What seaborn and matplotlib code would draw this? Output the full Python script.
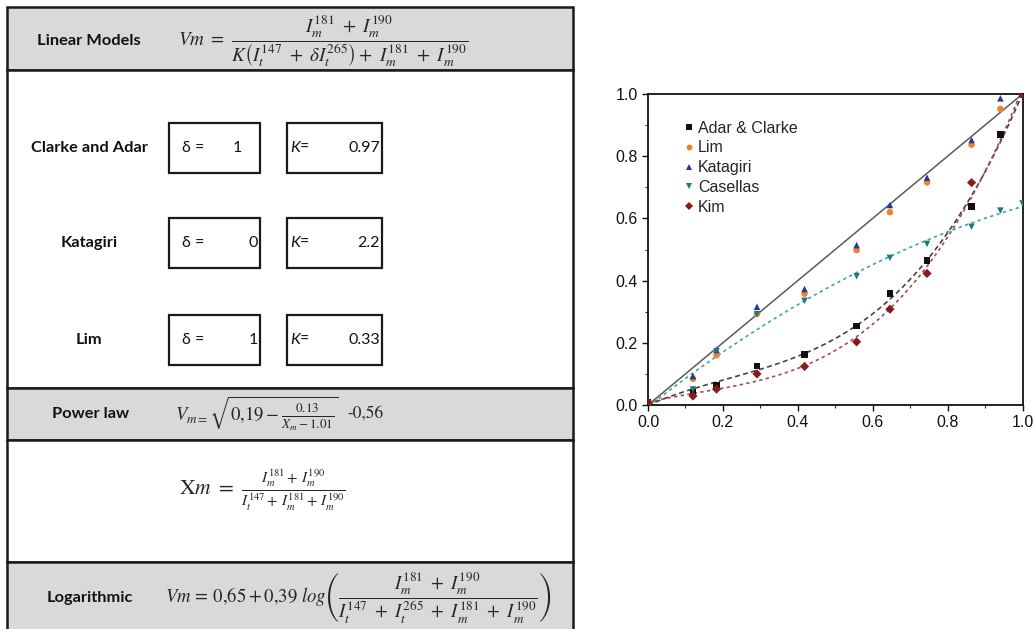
import numpy as np
import pandas as pd
import matplotlib
matplotlib.use("Agg")
import matplotlib.pyplot as plt
from matplotlib.patches import Rectangle
from matplotlib.ticker import MultipleLocator
import seaborn as sns

# data
x_vals = [0.0, 0.12, 0.183, 0.291, 0.418, 0.557, 0.646, 0.745, 0.864, 0.941, 1.0]
adar_clarke = [0.008, 0.040, 0.064, 0.126, 0.162, 0.254, 0.359, 0.464, 0.638, 0.870, 1.0]
lim = [0.003, 0.084, 0.160, 0.293, 0.358, 0.498, 0.620, 0.716, 0.837, 0.952, 1.0]
katagiri = [0.003, 0.093, 0.177, 0.316, 0.373, 0.514, 0.643, 0.731, 0.852, 0.986, 1.0]
casellas = [0.003, 0.050, 0.173, 0.292, 0.335, 0.414, 0.473, 0.518, 0.573, 0.625, 0.648]
kim = [0.008, 0.029, 0.051, 0.100, 0.124, 0.203, 0.308, 0.423, 0.715, np.nan, 1.0]
identity = [0.0, 1.0]

series_names = ["Adar & Clarke", "Lim", "Katagiri", "Casellas", "Kim"]
series_vals = [adar_clarke, lim, katagiri, casellas, kim]
colors = ["#111111", "#f0802c", "#22389a", "#1b7a78", "#8a1a1a"]
markers = ["s", "o", "^", "v", "D"]

# fitted curves: series, polynomial order, line colour, dash pattern
fits = [("Casellas", 2, "#3fa6a2", (0, (2, 2))),
        ("Adar & Clarke", 3, "#444444", (0, (3, 2))),
        ("Kim", 3, "#b04848", (0, (2, 2)))]

# table contents
models = ["Clarke and Adar", "Katagiri", "Lim"]
deltas = ["1", "0", "1"]
ks = ["0.97", "2.2", "0.33"]

rows = []
for name, vals in zip(series_names, series_vals):
    for x, y in zip(x_vals, vals):
        rows.append({"x": x, "y": y, "model": name})
df = pd.DataFrame(rows).dropna()

sns.set_theme(style="white")
plt.rcParams["font.family"] = ["Liberation Sans", "DejaVu Sans"]
plt.rcParams["mathtext.fontset"] = "stix"

W, H = 1035, 629
fig = plt.figure(figsize=(W / 100, H / 100), dpi=100)

# ---- left: table drawn in pixel coordinates
tab = fig.add_axes([0, 0, 1, 1])
tab.set_xlim(0, W)
tab.set_ylim(H, 0)
tab.axis("off")

gray = "#d9d9d9"
L, R = 7, 573
bands = [(7, 70, gray), (70, 388, "white"), (388, 440, gray),
         (440, 562, "white"), (562, 640, gray)]
for top, bot, fc in bands:
    tab.add_patch(Rectangle((L, top), R - L, bot - top, facecolor=fc,
                            edgecolor="#1a1a1a", lw=1.8, clip_on=False))

lbl = dict(family=["Lato", "DejaVu Sans"], fontsize=11.8, fontweight="bold",
           color="#111111", va="center")
box_font = dict(family=["Lato", "DejaVu Sans"], fontsize=11.5, color="#111111",
                va="center")

tab.text(37, 41, "Linear Models", ha="left", **lbl)
tab.text(178, 41,
         r"$Vm\ =\ \dfrac{I_m^{181}\ +\ I_m^{190}}"
         r"{K\left(I_t^{147}\ +\ \delta I_t^{265}\right)+\ I_m^{181}\ +\ I_m^{190}}$",
         ha="left", va="center", fontsize=13.8)

row_y = [148, 243, 340]
for name, d, k, yc in zip(models, deltas, ks, row_y):
    tab.text(89, yc, name, ha="center", **lbl)
    tab.add_patch(Rectangle((169, yc - 25), 91, 50, facecolor="white",
                            edgecolor="#1a1a1a", lw=1.6))
    tab.add_patch(Rectangle((287, yc - 25), 95, 50, facecolor="white",
                            edgecolor="#1a1a1a", lw=1.6))
    tab.text(182, yc, "δ =", ha="left", **box_font)
    if name == "Clarke and Adar":
        tab.text(237, yc, d, ha="center", **box_font)
    else:
        tab.text(258, yc, d, ha="right", **box_font)
    tab.text(290, yc, "K", ha="left", style="italic", **box_font)
    tab.text(300, yc, "=", ha="left", **box_font)
    tab.text(380, yc, k, ha="right", **box_font)

tab.text(52, 414, "Power law", ha="left", **lbl)
tab.text(175, 414,
         r"$V_{m=}\sqrt{0{,}19-\frac{0.13}{X_m-1.01}}$",
         ha="left", va="center", fontsize=13.5)
tab.text(347, 414, "-0,56", ha="left", va="center", fontsize=12.5,
         family="STIXGeneral")

tab.text(262, 490,
         r"$\mathrm{X}m\ =\ \frac{I_m^{181}+\,I_m^{190}}{I_t^{147}+\,I_m^{181}+\,I_m^{190}}$",
         ha="center", va="center", fontsize=15.5)

tab.text(47, 598, "Logarithmic", ha="left", **lbl)
tab.text(165, 598,
         r"$Vm\,=\,0{,}65+0{,}39\ log\left(\dfrac{I_m^{181}\ +\ I_m^{190}}"
         r"{I_t^{147}\ +\ I_t^{265}\ +\ I_m^{181}\ +\ I_m^{190}}\right)$",
         ha="left", va="center", fontsize=13.5)

# ---- right: scatter chart
ax = fig.add_axes([648 / W, 1 - 405 / H, 374.5 / W, 311 / H])
ax.plot(identity, identity, color="#5a5a5a", lw=1.1, zorder=1)

for name, order, lc, ls in fits:
    sub = df[df["model"] == name]
    sns.regplot(data=sub, x="x", y="y", order=order, ci=None, scatter=False,
                truncate=True, ax=ax,
                line_kws=dict(color=lc, lw=1.2, linestyle=ls, zorder=2))

sns.scatterplot(data=df, x="x", y="y", hue="model", style="model",
                hue_order=series_names, style_order=series_names,
                palette=colors, markers=markers, s=22, linewidth=0,
                ax=ax, zorder=3)

ax.set_xlim(0, 1)
ax.set_ylim(0, 1)
ax.set_xlabel("")
ax.set_ylabel("")
ax.xaxis.set_major_locator(MultipleLocator(0.2))
ax.yaxis.set_major_locator(MultipleLocator(0.2))
ax.xaxis.set_minor_locator(MultipleLocator(0.1))
ax.yaxis.set_minor_locator(MultipleLocator(0.1))
ax.tick_params(which="major", direction="out", length=4, width=1,
               bottom=True, left=True, labelsize=11.5, colors="#111111")
ax.tick_params(which="minor", direction="out", length=2.5, width=0.8,
               bottom=True, left=True)
for sp in ax.spines.values():
    sp.set_color("#111111")
    sp.set_linewidth(1.3)

leg = ax.legend(loc="upper left", bbox_to_anchor=(0.07, 0.935), frameon=False,
                fontsize=11.5, handletextpad=0.1, handlelength=1.0,
                labelspacing=0.3, borderaxespad=0, markerscale=0.9)

fig.savefig("out.png", dpi=100)
